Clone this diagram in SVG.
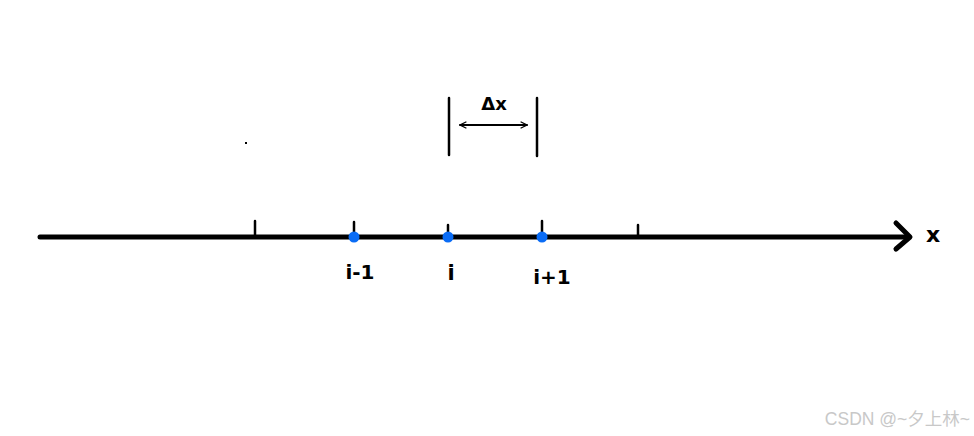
<svg xmlns="http://www.w3.org/2000/svg" width="974" height="436" viewBox="0 0 974 436">
<style>
.ink{stroke:#000;fill:none;stroke-linecap:round;stroke-linejoin:round}
.lbl{font-family:"DejaVu Sans","Liberation Sans",sans-serif;fill:#000;text-anchor:middle;font-weight:bold}
.pt{fill:#0a6cf5}
</style>
<defs>
<marker id="ah" viewBox="0 0 10 10" refX="9" refY="5" markerWidth="8" markerHeight="8" orient="auto-start-reverse" markerUnits="userSpaceOnUse">
<path d="M1,1 L9,5 L1,9" fill="none" stroke="#000" stroke-width="1.6"/>
</marker>
</defs>
<rect width="974" height="436" fill="#fff"/>
<g id="connectors">
<line class="ink" x1="40" y1="237" x2="909" y2="237" stroke-width="5"/>
<polyline class="ink" points="896,223 910,237 896,249" stroke-width="5"/>
<line class="ink" x1="460" y1="125" x2="527" y2="125" stroke-width="1.8" marker-start="url(#ah)" marker-end="url(#ah)"/>
</g>
<g id="ticks">
<line class="ink" x1="255" y1="221" x2="255" y2="237" stroke-width="2.5"/>
<line class="ink" x1="354" y1="222" x2="354" y2="237" stroke-width="2.5"/>
<line class="ink" x1="448" y1="225" x2="448" y2="237" stroke-width="2.5"/>
<line class="ink" x1="542" y1="221" x2="542" y2="237" stroke-width="2.5"/>
<line class="ink" x1="638" y1="225" x2="638" y2="237" stroke-width="2.5"/>
</g>
<g id="node-im1">
<circle class="pt" cx="354" cy="237" r="5.5"/>
<text class="lbl" x="360" y="279" font-size="20">i-1</text>
</g>
<g id="node-i">
<circle class="pt" cx="448" cy="237" r="5.5"/>
<text class="lbl" x="451" y="280" font-size="21">i</text>
</g>
<g id="node-ip1">
<circle class="pt" cx="542" cy="237" r="5.5"/>
<text class="lbl" x="552" y="284" font-size="20">i+1</text>
</g>
<g id="dx">
<line class="ink" x1="449" y1="98" x2="449" y2="155" stroke-width="2.5"/>
<line class="ink" x1="537" y1="98" x2="537" y2="156" stroke-width="2.5"/>
<text class="lbl" x="494" y="110" font-size="18">Δx</text>
</g>
<g id="axis-label">
<text class="lbl" x="933" y="242" font-size="22">x</text>
</g>
<rect x="245" y="142" width="2" height="2" fill="#000"/>
<text x="970" y="425" font-family="'Liberation Sans','Noto Sans CJK SC',sans-serif" font-size="17.5" fill="#c8c8c8" text-anchor="end">CSDN @~夕上林~</text>
</svg>
